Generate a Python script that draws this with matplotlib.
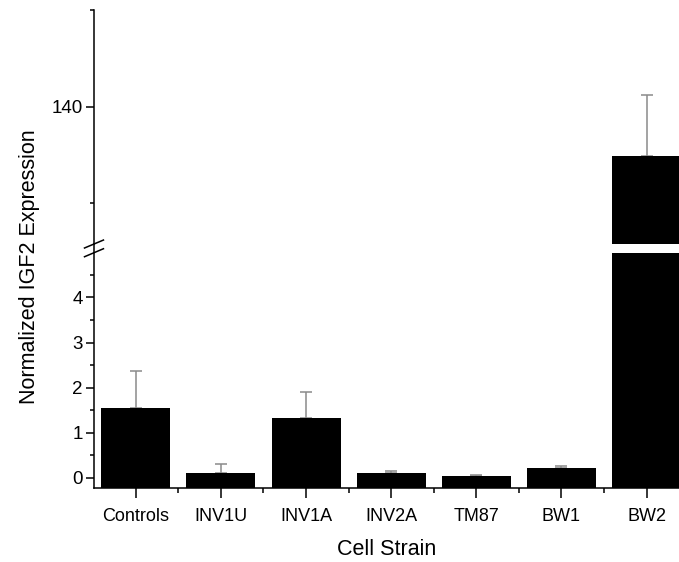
import matplotlib.pyplot as plt
from matplotlib.ticker import MultipleLocator, NullFormatter

plt.rcParams['font.family'] = ['Liberation Sans', 'DejaVu Sans']

strains = ["Controls", "INV1U", "INV1A", "INV2A", "TM87", "BW1", "BW2"]
expression = [1.55, 0.10, 1.32, 0.12, 0.04, 0.21, 129.9]
errors = [0.83, 0.21, 0.58, 0.03, 0.02, 0.05, 12.5]

low_lim = (-0.23, 4.99)
high_lim = (111.6, 160.0)

fig = plt.figure(figsize=(6.79, 5.62), dpi=100)
ax_hi = fig.add_axes([0.1384, 0.5658, 0.8616, 0.4164])
ax_lo = fig.add_axes([0.1384, 0.1311, 0.8616, 0.4192])

x = list(range(len(strains)))
for ax, lim in ((ax_lo, low_lim), (ax_hi, high_lim)):
    # Origin-style bars start at the bottom of the lower axis
    base = low_lim[0]
    ax.bar(x, [v - base for v in expression], bottom=base, width=0.81,
           color="black", zorder=2)
    ax.errorbar(x, expression, yerr=[[0] * len(errors), errors], fmt="none",
                ecolor="#8a8a8a", elinewidth=1.1, capsize=4.3, capthick=1.1,
                zorder=1)
    ax.set_ylim(*lim)
    ax.set_xlim(-0.49, 6.38)
    ax.spines["top"].set_visible(False)
    ax.spines["right"].set_visible(False)
    ax.spines["left"].set_linewidth(1.1)
    ax.tick_params(axis="y", which="major", direction="out", length=6,
                   width=1.1, labelsize=13.5, pad=2)
    ax.tick_params(axis="y", which="minor", direction="out", length=3,
                   width=1.1)

# upper panel: only the left spine
ax_hi.spines["bottom"].set_visible(False)
ax_hi.tick_params(axis="x", which="both", bottom=False, labelbottom=False)
ax_hi.yaxis.set_major_locator(MultipleLocator(40, offset=20))
ax_hi.yaxis.set_minor_locator(MultipleLocator(20))

# lower panel
ax_lo.spines["bottom"].set_linewidth(1.1)
ax_lo.yaxis.set_major_locator(MultipleLocator(1))
ax_lo.yaxis.set_minor_locator(MultipleLocator(0.5))
ax_lo.set_xticks(x)
ax_lo.set_xticklabels(strains)
ax_lo.xaxis.set_minor_locator(MultipleLocator(1, offset=0.5))
ax_lo.xaxis.set_minor_formatter(NullFormatter())
ax_lo.tick_params(axis="x", which="major", direction="out", length=7,
                  width=1.1, labelsize=13, pad=7)
ax_lo.tick_params(axis="x", which="minor", direction="out", length=3.5,
                  width=1.1)

# axis break marks
dx, dy = 0.0162, 0.017
ax_hi.plot([0, 0], [0, -0.04], transform=ax_hi.transAxes, color="black",
           lw=1.1, clip_on=False)
ax_hi.plot([-dx, dx], [-dy, dy], transform=ax_hi.transAxes, color="black",
           lw=1.1, clip_on=False)
ax_lo.plot([-dx, dx], [1 - dy, 1 + dy], transform=ax_lo.transAxes,
           color="black", lw=1.1, clip_on=False)

ax_lo.set_xlabel("Cell Strain", fontsize=15.5, labelpad=10)
fig.text(0.043, 0.525, "Normalized IGF2 Expression", rotation=90,
         fontsize=15.5, ha="center", va="center")

fig.savefig("out.png", dpi=100)
